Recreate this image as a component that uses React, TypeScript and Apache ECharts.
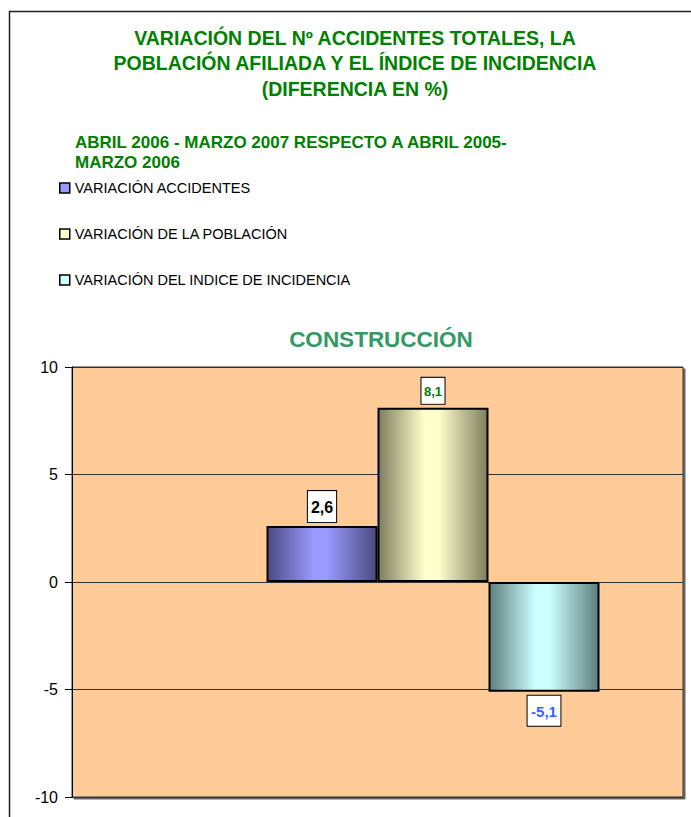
import React, { useEffect, useRef } from "react";
import * as echarts from "echarts";

const categories = ["CONSTRUCCIÓN"];
const seriesNames = [
  "VARIACIÓN ACCIDENTES",
  "VARIACIÓN DE LA POBLACIÓN",
  "VARIACIÓN DEL INDICE DE INCIDENCIA",
];
const accidentes = [2.6];
const poblacion = [8.1];
const incidencia = [-5.1];
const yTicks = { min: -10, max: 10, interval: 5 };

const FONT = "Arial, 'Liberation Sans', sans-serif";

function grad(dark: string, light: string) {
  return new echarts.graphic.LinearGradient(0, 0, 1, 0, [
    { offset: 0, color: dark },
    { offset: 0.42, color: light },
    { offset: 0.55, color: light },
    { offset: 1, color: dark },
  ]);
}

const fmt = (p: any) => String(p.value).replace(".", ",");

export default function App() {
  const ref = useRef<HTMLDivElement>(null);
  useEffect(() => {
    const chart = echarts.init(ref.current!, null, { renderer: "svg" });
    const labelBase = {
      show: true,
      formatter: fmt,
      backgroundColor: "#ffffff",
      borderColor: "#000000",
      borderWidth: 1,
      fontFamily: FONT,
      fontWeight: "bold",
      distance: 4,
    };
    const barBase = {
      type: "bar",
      barWidth: 111,
      barGap: "0%",
      itemStyle: { borderColor: "#000000", borderWidth: 2 },
    };
    chart.setOption({
      animation: false,
      backgroundColor: "#ffffff",
      title: [
        {
          text: "VARIACIÓN DEL Nº ACCIDENTES TOTALES, LA\nPOBLACIÓN AFILIADA Y EL ÍNDICE DE INCIDENCIA\n(DIFERENCIA EN %)",
          left: 350,
          top: 20,
          textAlign: "center",
          textStyle: {
            color: "#008000",
            fontFamily: FONT,
            fontWeight: "bold",
            fontSize: 19.5,
            lineHeight: 25.5,
          },
        },
        {
          text: "ABRIL 2006 - MARZO 2007 RESPECTO A ABRIL 2005-\nMARZO 2006",
          left: 70,
          top: 128,
          textStyle: {
            color: "#008000",
            fontFamily: FONT,
            fontWeight: "bold",
            fontSize: 17,
            lineHeight: 19.5,
          },
        },
        {
          text: categories[0],
          left: 376,
          top: 323,
          textAlign: "center",
          textStyle: {
            color: "#339966",
            fontFamily: FONT,
            fontWeight: "bold",
            fontSize: 22.5,
          },
        },
      ],
      legend: {
        orient: "vertical",
        left: 59,
        top: 179,
        padding: 0,
        itemWidth: 10,
        itemHeight: 10,
        itemGap: 28,
        icon: "rect",
        textStyle: {
          fontFamily: FONT,
          fontSize: 14.5,
          color: "#000000",
          lineHeight: 18,
        },
        data: [
          { name: seriesNames[0], itemStyle: { color: "#9999FF", borderColor: "#000", borderWidth: 1.5 } },
          { name: seriesNames[1], itemStyle: { color: "#FFFFCC", borderColor: "#000", borderWidth: 1.5 } },
          { name: seriesNames[2], itemStyle: { color: "#CCFFFF", borderColor: "#000", borderWidth: 1.5 } },
        ],
      },
      grid: {
        left: 72,
        top: 367,
        width: 611,
        height: 430,
        show: true,
        backgroundColor: "#FFCC99",
        borderColor: "#333333",
        borderWidth: 1,
        shadowColor: "rgba(0,0,0,0.6)",
        shadowOffsetX: 2,
        shadowOffsetY: 2,
        shadowBlur: 0,
      },
      xAxis: {
        type: "category",
        data: categories,
        axisLabel: { show: false },
        axisLine: { show: false },
        axisTick: { show: false },
      },
      yAxis: {
        type: "value",
        min: yTicks.min,
        max: yTicks.max,
        interval: yTicks.interval,
        axisLine: { show: true, lineStyle: { color: "#000000", width: 1 } },
        axisTick: { show: true, length: 7, lineStyle: { color: "#000000" } },
        axisLabel: { color: "#000000", fontFamily: FONT, fontSize: 16, margin: 14 },
        splitLine: { show: true, lineStyle: { color: "#333333", width: 1 } },
      },
      series: [
        { ...barBase, name: "", data: [null], label: { show: false } },
        {
          ...barBase,
          name: seriesNames[0],
          data: accidentes,
          itemStyle: { ...barBase.itemStyle, color: grad("#4A4A7E", "#9999FF") },
          label: { ...labelBase, position: "top", color: "#000000", fontSize: 16, padding: [8, 3, 7, 3] },
        },
        {
          ...barBase,
          name: seriesNames[1],
          data: poblacion,
          itemStyle: { ...barBase.itemStyle, color: grad("#7E7E5E", "#FFFFCC") },
          label: { ...labelBase, position: "top", color: "#008000", fontSize: 13, padding: [7, 2.5, 6, 2.5] },
        },
        {
          ...barBase,
          name: seriesNames[2],
          data: incidencia,
          itemStyle: { ...barBase.itemStyle, color: grad("#5E7E7E", "#CCFFFF") },
          label: { ...labelBase, position: "bottom", color: "#3366FF", fontSize: 15, padding: [8, 3.5, 7, 3.5] },
        },
      ],
      graphic: [
        {
          type: "polyline",
          shape: { points: [[9.5, 817], [9.5, 11.5], [691, 11.5]] },
          style: { stroke: "#222222", lineWidth: 1.5, fill: "none" },
          silent: true,
        },
      ],
    });
    return () => chart.dispose();
  }, []);
  return (
    <div
      ref={ref}
      style={{ position: "absolute", left: 0, top: 0, width: 691, height: 817 }}
    />
  );
}
